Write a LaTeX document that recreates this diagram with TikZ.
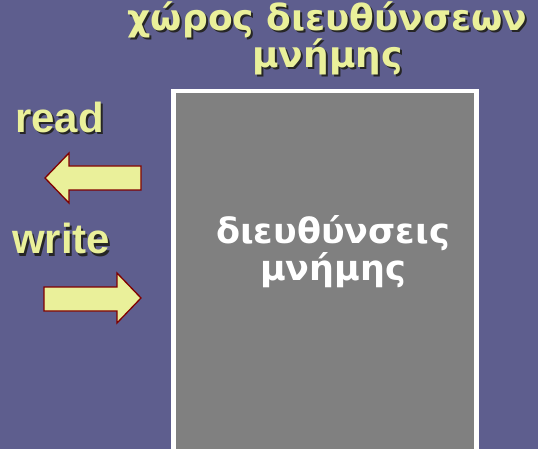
\documentclass[tikz,border=0pt]{standalone}
\usepackage{fontspec}
\setmainfont{DejaVu Sans}
\newfontfamily\arialb{Liberation Sans}[BoldFont={* Bold}]
\definecolor{bgc}{RGB}{94,94,142}
\definecolor{ylw}{RGB}{234,240,154}
\definecolor{arrred}{RGB}{128,0,0}
\definecolor{boxg}{RGB}{128,128,128}
\tikzset{
  ttl/.style={font=\fontsize{36}{34}\selectfont\bfseries, align=center, text=ylw, inner sep=0pt, anchor=base},
  ttlsh/.style={ttl, text=black!85},
  rw/.style={font=\fontsize{42}{40}\selectfont\arialb\bfseries, text=ylw, inner sep=0pt, anchor=base west},
  rwsh/.style={rw, text=black!85},
  bigarrow/.style={fill=ylw, draw=arrred, line width=1.3pt, line join=miter},
  inner/.style={font=\fontsize{35}{33}\selectfont\bfseries, align=center, text=white, inner sep=0pt, anchor=base}
}
\begin{document}
\begin{tikzpicture}[x=1pt,y=-1pt]
\fill[bgc] (0,0) rectangle (538,449);
\useasboundingbox (0,0) rectangle (538,449);
% box
\draw[fill=boxg, draw=white, line width=4.5pt] (173.5,91) rectangle (476.5,451);
\node[inner] (mem) at (333,280) {διευθύνσεις\\μνήμης};
% title
\node[ttlsh] (tsh) at (329.5,70) {χώρος διευθύνσεων\\μνήμης};
\node[ttl] (title) at (327.5,68) {χώρος διευθύνσεων\\μνήμης};
% read / write
\node[rwsh] (rsh) at (17,135) {read};
\node[rw] (read) at (15,133) {read};
\node[rwsh] (wsh) at (14,256) {write};
\node[rw] (write) at (12,254) {write};
% arrows
\draw[bigarrow] (45,178) -- (69,153) -- (69,166) -- (141,166) -- (141,190) -- (69,190) -- (69,203) -- cycle;
\draw[bigarrow] (141,298) -- (117,273) -- (117,287) -- (44,287) -- (44,311) -- (117,311) -- (117,323) -- cycle;
\end{tikzpicture}
\end{document}
